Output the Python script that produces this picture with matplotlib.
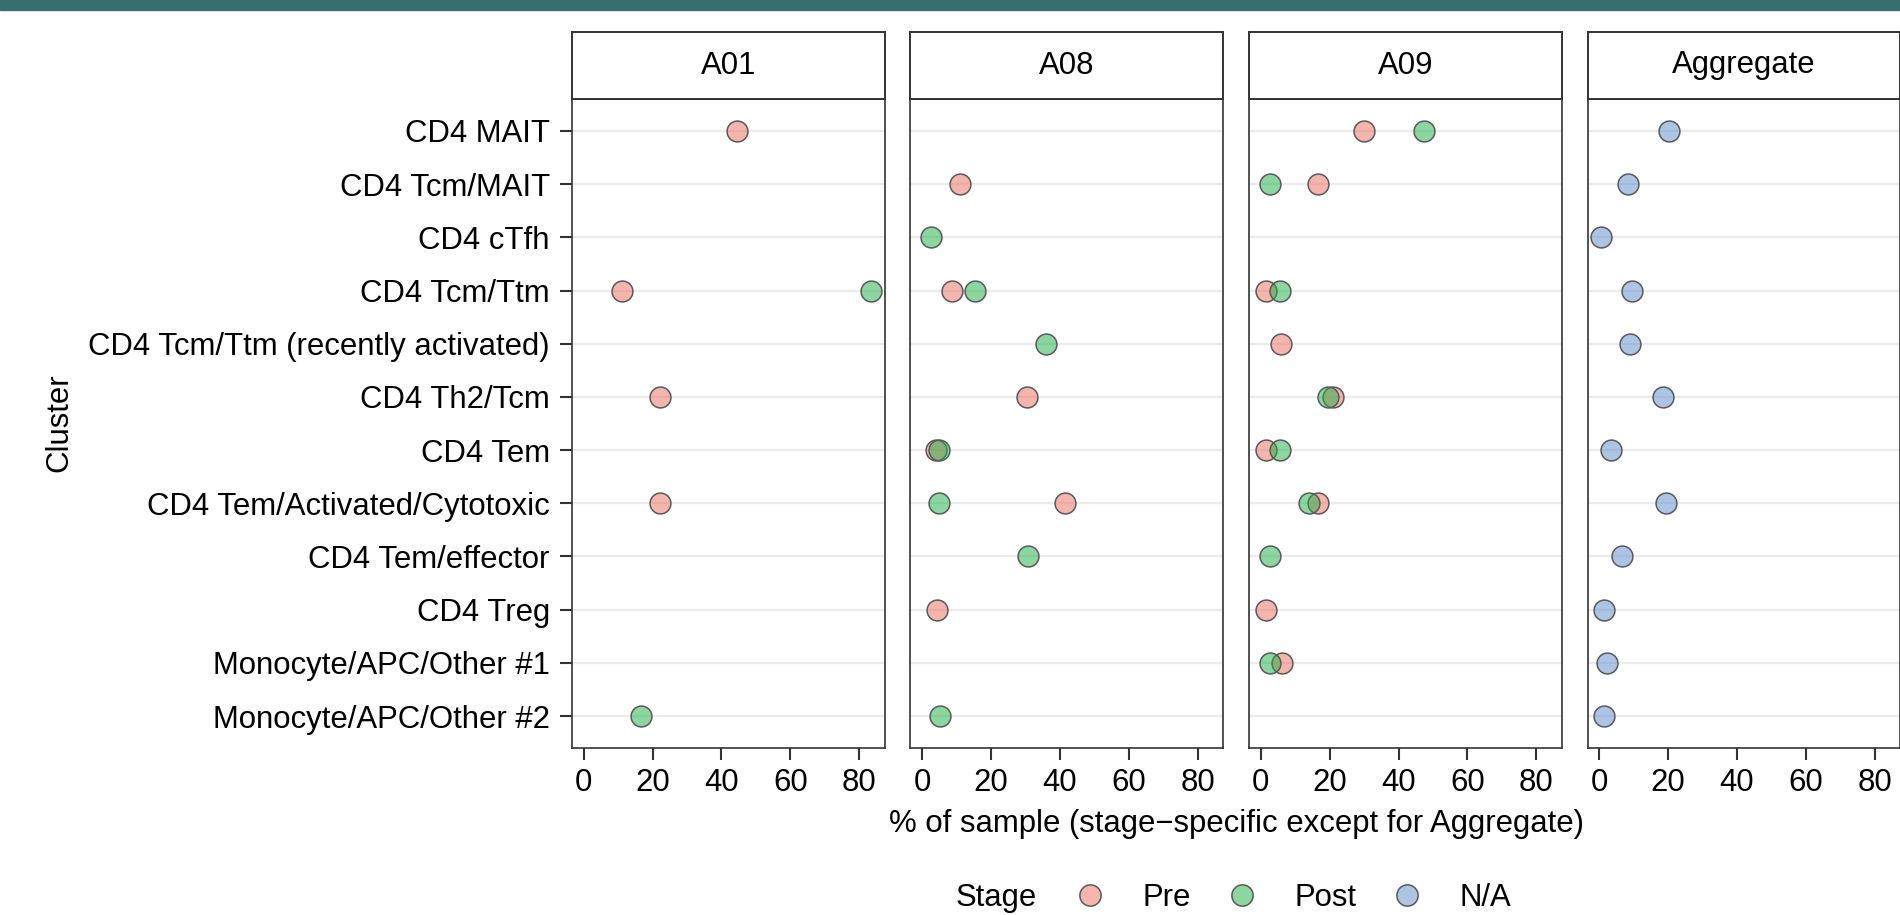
import numpy as np
import matplotlib
matplotlib.use("Agg")
import matplotlib.pyplot as plt
from matplotlib.lines import Line2D
from matplotlib.patches import Rectangle
from matplotlib.colors import to_rgba

plt.rcParams['font.family'] = ['Liberation Sans', 'DejaVu Sans']

nan = np.nan

clusters = [
    "CD4 MAIT",
    "CD4 Tcm/MAIT",
    "CD4 cTfh",
    "CD4 Tcm/Ttm",
    "CD4 Tcm/Ttm (recently activated)",
    "CD4 Th2/Tcm",
    "CD4 Tem",
    "CD4 Tem/Activated/Cytotoxic",
    "CD4 Tem/effector",
    "CD4 Treg",
    "Monocyte/APC/Other #1",
    "Monocyte/APC/Other #2",
]
panels = ["A01", "A08", "A09", "Aggregate"]

# % of sample per cluster (NaN = not present)
a01_pre = [44.5, nan, nan, 11.1, nan, 22.3, nan, 22.3, nan, nan, nan, nan]
a01_post = [nan, nan, nan, 83.5, nan, nan, nan, nan, nan, nan, nan, 16.7]
a08_pre = [nan, 10.9, nan, 8.7, nan, 30.4, 4.0, 41.5, nan, 4.4, nan, nan]
a08_post = [nan, nan, 2.6, 15.4, 36.0, nan, 5.0, 5.0, 30.8, nan, nan, 5.1]
a09_pre = [29.9, 16.5, nan, 1.4, 6.0, 20.9, 1.4, 16.6, nan, 1.4, 6.1, nan]
a09_post = [47.3, 2.8, nan, 5.7, nan, 19.6, 5.7, 13.9, 2.8, nan, 2.8, nan]
agg_na = [20.2, 8.4, 0.5, 9.4, 8.8, 18.4, 3.5, 19.3, 6.5, 1.5, 2.4, 1.5]

stage_names = ["Pre", "Post", "N/A"]
stage_colors = {"Pre": "#EC6C60", "Post": "#1AAE44", "N/A": "#5F8ACD"}
panel_data = {
    "A01": [("Pre", a01_pre), ("Post", a01_post)],
    "A08": [("Pre", a08_pre), ("Post", a08_post)],
    "A09": [("Pre", a09_pre), ("Post", a09_post)],
    "Aggregate": [("N/A", agg_na)],
}

W, H = 1900, 915
fig = plt.figure(figsize=(W / 100, H / 100), dpi=100)

# teal band at top
fig.patches.append(Rectangle((0, 1 - 10 / H), 1, 10 / H, transform=fig.transFigure,
                             color="#396E71", zorder=0))

FS = 22.4
edge = "#595959"
dark = "#333333"
pw = 312.6 / W
lefts = [572 / W, 910.4 / W, 1249.1 / W, 1587.5 / W]
pb, pt = 1 - 748 / H, 1 - 99 / H
st = 1 - 32 / H
ypos = np.arange(len(clusters))

for i, name in enumerate(panels):
    ax = fig.add_axes([lefts[i], pb, pw, pt - pb])
    for y in ypos:
        ax.axhline(y, color="#EBEBEB", lw=1.6, zorder=0)
    for stage, vals in panel_data[name]:
        ax.scatter(vals, ypos, s=225, facecolor=to_rgba(stage_colors[stage], 0.5),
                   edgecolor=edge, linewidth=1.1, zorder=3)
    ax.set_xlim(-3.4, 87.4)
    ax.set_ylim(len(clusters) - 0.4, -0.6)
    ax.set_xticks([0, 20, 40, 60, 80])
    ax.tick_params(axis="x", length=8.5, width=1.5, color=dark, labelsize=FS, pad=6)
    if i == 0:
        ax.set_yticks(ypos)
        ax.set_yticklabels(clusters)
        ax.tick_params(axis="y", length=9, width=1.5, color=dark, labelsize=FS, pad=7)
    else:
        ax.set_yticks([])
    for sp in ax.spines.values():
        sp.set_color(dark)
        sp.set_linewidth(1.2)

    # facet strip
    sax = fig.add_axes([lefts[i], pt, pw, st - pt])
    sax.set_xticks([])
    sax.set_yticks([])
    for sp in sax.spines.values():
        sp.set_color(dark)
        sp.set_linewidth(1.4)
    sax.text(0.5, 0.5, name, ha="center", va="center", fontsize=FS, transform=sax.transAxes)

fig.text(59.5 / W, 1 - 423 / H, "Cluster", rotation=90, ha="center", va="center", fontsize=FS)
fig.text(1236 / W, 1 - 824 / H, "% of sample (stage\u2212specific except for Aggregate)",
         ha="center", va="center", fontsize=FS)

# legend
handles = [Line2D([], [], marker="o", ls="", markersize=15.3,
                  markerfacecolor=to_rgba(stage_colors[s], 0.5),
                  markeredgecolor=edge, markeredgewidth=1.1) for s in stage_names]
ly = 1 - 898 / H
fig.text(956 / W, ly, "Stage", ha="left", va="center", fontsize=FS)
fig.legend(handles, stage_names, loc="center left", bbox_to_anchor=(1077.5 / W, ly),
           ncol=3, frameon=False, fontsize=FS, handlelength=0.8, handletextpad=1.3,
           columnspacing=1.22, borderpad=0, borderaxespad=0)

fig.savefig("out.png", dpi=100)
